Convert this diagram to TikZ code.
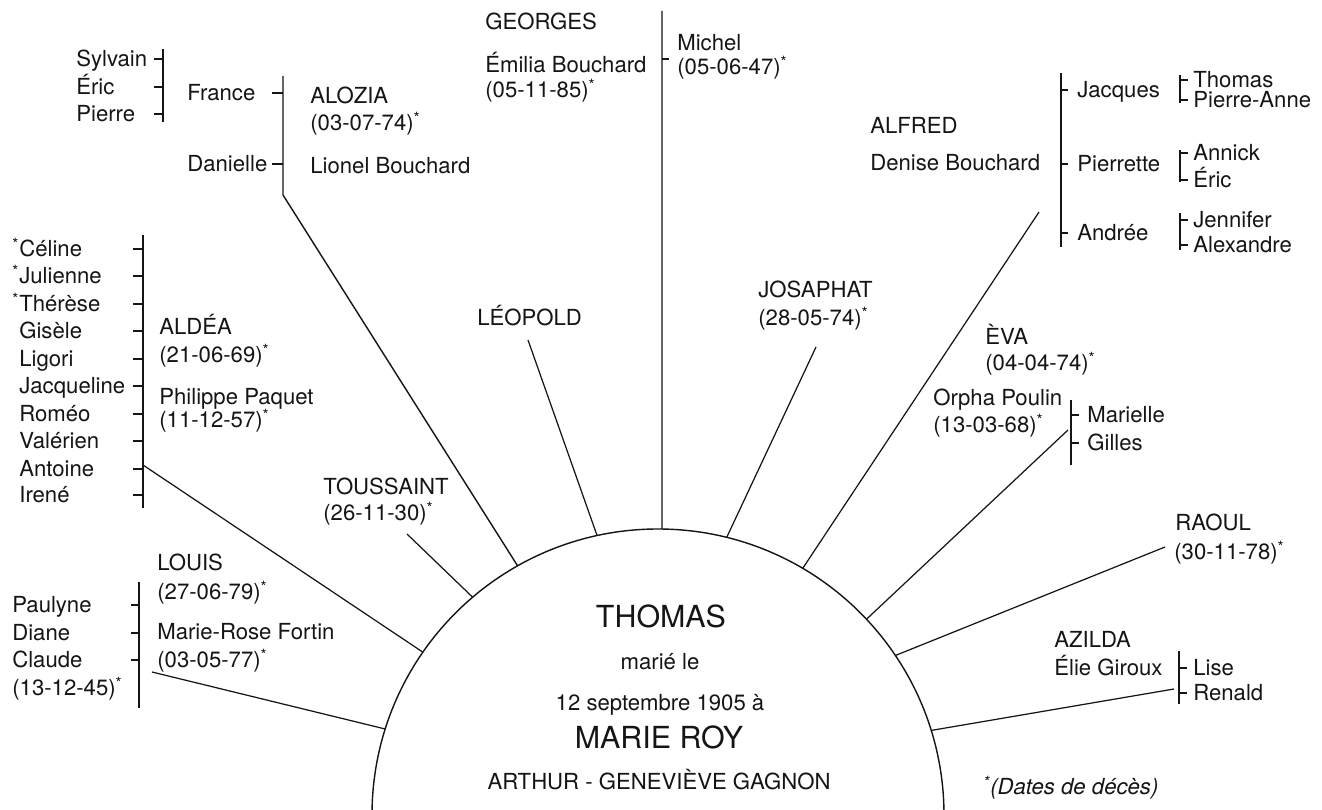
\documentclass[tikz,border=0pt]{standalone}
\usepackage{fontspec}
\setmainfont{TeX Gyre Heros}
\usepackage{tikz}
\usetikzlibrary{calc}
\definecolor{ink}{HTML}{151515}
\newcommand{\dead}{\textsuperscript{*}}
\tikzset{
  who/.style={anchor=west, inner sep=0pt, text height=9pt, text depth=0pt,
    text=ink, font=\fontsize{12.6}{15}\selectfont},
  mid/.style={who, anchor=center},
  big/.style={mid, text height=12.4pt, font=\fontsize{17.3}{20}\selectfont},
  bar/.style={draw=ink, line width=0.8pt},
  spoke/.style={draw=ink, line width=0.7pt},
}

\begin{document}
\begin{tikzpicture}[x=0.02cm,y=-0.02cm]
  \fill[white] (0,0) rectangle (1322,810);
  \useasboundingbox (0,0) rectangle (1322,810);

  % the couple in the half circle
  \coordinate (ctr) at (658,815);
  \draw[bar] ($(ctr)+(-179:286)$) arc[start angle=-179,end angle=-1,radius=286];
  \node[big] (thomas) at (661,617) {THOMAS};
  \node[mid] (marie) at (660,662) {marié le};
  \node[mid] (wedding) at (660,703) {12 septembre 1905 à};
  \node[big] (roy) at (659,738) {MARIE ROY};
  \node[mid] (parents) at (659,782) {ARTHUR - GENEVIÈVE GAGNON};

  % where each child's line meets the arc
  \foreach \n/\a in {louis/-162.5,aldea/-145.3,toussaint/-130.4,alozia/-119.4,
      leopold/-102.3,georges/-89.2,josaphat/-76.1,alfred/-59.6,eva/-43.2,
      raoul/-33.9,azilda/-17.2}
    \coordinate (foot-\n) at ($(ctr)+(\a:286)$);

  % ALOZIA
  \node[who] (sylvain) at (76,59) {Sylvain};
  \node[who] (ericF) at (76,87) {Éric};
  \node[who] (pierre) at (76,114) {Pierre};
  \coordinate (franceTop) at (163,49);
  \coordinate (franceBot) at (163,122);
  \draw[bar] (franceTop) -- (franceBot);
  \foreach \n in {sylvain,ericF,pierre}
    \draw[bar] (\n -| franceTop) -- ++(-9,0);
  \node[who] (france) at (187,93) {France};
  \node[who] (danielle) at (187,164) {Danielle};
  \node[who] (alozia) at (310,96) {ALOZIA};
  \node[who] (aloziaDate) at (310,123) {(03-07-74)\dead};
  \node[who] (lionel) at (310,166) {Lionel Bouchard};
  \coordinate (aloziaTop) at (283,76);
  \coordinate (aloziaBend) at (283,195);
  \draw[bar] (aloziaTop) -- (aloziaBend) -- (foot-alozia);
  \foreach \n in {france,danielle}
    \draw[bar] (\n -| aloziaTop) -- ++(-11,0);

  % GEORGES
  \node[who] (georges) at (485,22) {GEORGES};
  \node[who] (emilia) at (485,65) {Émilia Bouchard};
  \node[who] (emiliaDate) at (485,90) {(05-11-85)\dead};
  \node[who] (michel) at (677,43) {Michel};
  \node[who] (michelDate) at (677,67) {(05-06-47)\dead};
  \coordinate (georgesTop) at (662,11);
  \coordinate (michelTick) at (662,59);
  \draw[bar] (georgesTop) -- (foot-georges);
  \draw[bar] (michelTick) -- ++(7,0);

  % LEOPOLD, TOUSSAINT, JOSAPHAT
  \node[who] (leopold) at (477,318) {LÉOPOLD};
  \coordinate (leopoldEnd) at (528,340);
  \draw[spoke] (leopoldEnd) -- (foot-leopold);
  \node[who] (toussaint) at (323,487) {TOUSSAINT};
  \node[who] (toussaintDate) at (323,513) {(26-11-30)\dead};
  \coordinate (toussaintEnd) at (407,534);
  \draw[spoke] (toussaintEnd) -- (foot-toussaint);
  \node[who] (josaphat) at (758,290) {JOSAPHAT};
  \node[who] (josaphatDate) at (758,318) {(28-05-74)\dead};
  \coordinate (josaphatEnd) at (816,347);
  \draw[spoke] (josaphatEnd) -- (foot-josaphat);

  % ALFRED
  \node[who] (alfred) at (870,126) {ALFRED};
  \node[who] (denise) at (870,163) {Denise Bouchard};
  \coordinate (alfredEnd) at (1039,212);
  \draw[spoke] (alfredEnd) -- (foot-alfred);
  \coordinate (alfredTop) at (1061,73);
  \coordinate (alfredBot) at (1061,247);
  \draw[bar] (alfredTop) -- (alfredBot);
  \node[who] (jacques) at (1077,90) {Jacques};
  \node[who] (pierrette) at (1077,164) {Pierrette};
  \node[who] (andree) at (1077,233) {Andrée};
  \foreach \n in {jacques,pierrette,andree}
    \draw[bar] (\n -| alfredTop) -- ++(7,0);
  \foreach \n/\y/\t/\top/\bot in {thomasJ/80/Thomas/75/103,pierreAnne/100/Pierre-Anne/75/103,
      annick/153/Annick/150/182,ericP/180/Éric/150/182,
      jennifer/220/Jennifer/213/250,alexandre/245/Alexandre/213/250} {
    \node[who] (\n) at (1193,\y) {\t};
    \draw[bar] (1180,\top) -- (1180,\bot);
    \draw[bar] (\n -| 1180,0) -- ++(8,0);
  }

  % EVA
  \node[who] (eva) at (985,337) {ÈVA};
  \node[who] (evaDate) at (985,363) {(04-04-74)\dead};
  \node[who] (orpha) at (933,398) {Orpha Poulin};
  \node[who] (orphaDate) at (933,425) {(13-03-68)\dead};
  \coordinate (evaTop) at (1071,400);
  \coordinate (evaBot) at (1071,465);
  \coordinate (evaEnd) at (1068,430);
  \draw[bar] (evaTop) -- (evaBot);
  \draw[spoke] (evaEnd) -- (foot-eva);
  \node[who] (marielle) at (1087,415) {Marielle};
  \node[who] (gilles) at (1087,443) {Gilles};
  \foreach \n in {marielle,gilles}
    \draw[bar] (\n -| evaTop) -- ++(8,0);

  % RAOUL, AZILDA
  \node[who] (raoul) at (1175,523) {RAOUL};
  \node[who] (raoulDate) at (1174,552) {(30-11-78)\dead};
  \coordinate (raoulEnd) at (1165,547);
  \draw[spoke] (raoulEnd) -- (foot-raoul);
  \node[who] (azilda) at (1054,640) {AZILDA};
  \node[who] (elie) at (1054,668) {Élie Giroux};
  \coordinate (azildaTop) at (1179,651);
  \coordinate (azildaBot) at (1179,704);
  \coordinate (azildaEnd) at (1174,689);
  \draw[bar] (azildaTop) -- (azildaBot);
  \draw[spoke] (azildaEnd) -- (foot-azilda);
  \node[who] (lise) at (1193,668) {Lise};
  \node[who] (renald) at (1193,693) {Renald};
  \foreach \n in {lise,renald}
    \draw[bar] (\n -| azildaTop) -- ++(8,0);

  % ALDEA
  \node[who] (aldea) at (159,327) {ALDÉA};
  \node[who] (aldeaDate) at (159,355) {(21-06-69)\dead};
  \node[who] (philippe) at (159,397) {Philippe Paquet};
  \node[who] (philippeDate) at (159,420) {(11-12-57)\dead};
  \coordinate (aldeaTop) at (143,235);
  \coordinate (aldeaBot) at (143,508);
  \coordinate (aldeaBend) at (143,465);
  \draw[bar] (aldeaTop) -- (aldeaBot);
  \draw[spoke] (aldeaBend) -- (foot-aldea);
  \foreach \n/\y/\t in {celine/249/\llap{\dead}Céline,julienne/276/\llap{\dead}Julienne,
      therese/304/\llap{\dead}Thérèse,gisele/331/Gisèle,ligori/359/Ligori,
      jacqueline/386/Jacqueline,romeo/414/Roméo,valerien/441/Valérien,
      antoine/469/Antoine,irene/495/Irené} {
    \node[who] (\n) at (19,\y) {\t};
    \draw[bar] (\n -| aldeaTop) -- ++(-10,0);
  }

  % LOUIS
  \node[who] (louis) at (157,563) {LOUIS};
  \node[who] (louisDate) at (157,592) {(27-06-79)\dead};
  \node[who] (marieRose) at (157,632) {Marie-Rose Fortin};
  \node[who] (marieRoseDate) at (157,660) {(03-05-77)\dead};
  \coordinate (louisTop) at (139,582);
  \coordinate (louisBot) at (139,708);
  \coordinate (louisEnd) at (152,672);
  \draw[bar] (louisTop) -- (louisBot);
  \draw[spoke] (louisEnd) -- (foot-louis);
  \node[who] (paulyne) at (12,605) {Paulyne};
  \node[who] (diane) at (12,633) {Diane};
  \node[who] (claude) at (12,660) {Claude};
  \node[who] (claudeDate) at (12,688) {(13-12-45)\dead};
  \foreach \n in {paulyne,diane,claude}
    \draw[bar] (\n -| louisTop) -- ++(-8,0);

  \node[who] (legend) at (983,787) {\itshape\dead(Dates de décès)};
\end{tikzpicture}
\end{document}
